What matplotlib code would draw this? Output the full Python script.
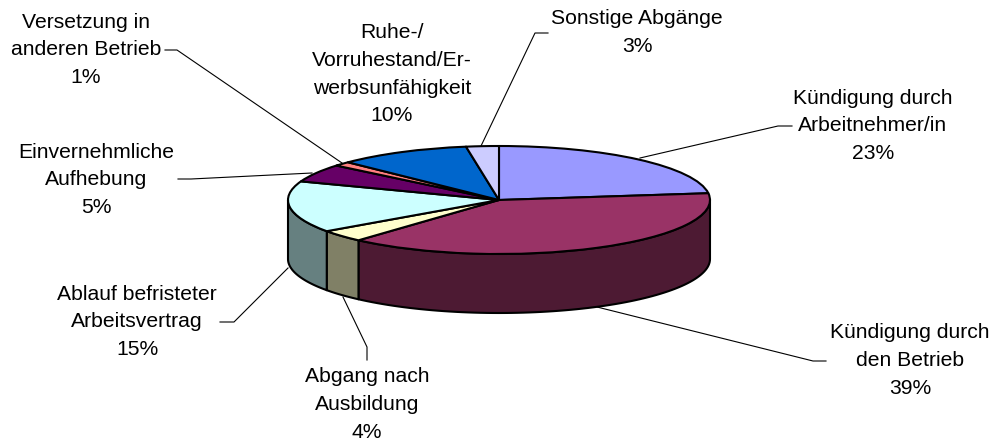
#!/usr/bin/env python3

import numpy as np
import matplotlib
matplotlib.use('Agg')
import matplotlib.pyplot as plt
from matplotlib.patches import Wedge, Polygon
from matplotlib.transforms import Affine2D

# data, clockwise from 12 o'clock
labels = ['Kündigung durch\nArbeitnehmer/in', 'Kündigung durch\nden Betrieb',
          'Abgang nach\nAusbildung', 'Ablauf befristeter\nArbeitsvertrag',
          'Einvernehmliche\nAufhebung', 'Versetzung in\nanderen Betrieb',
          'Ruhe-/\nVorruhestand/Er-\nwerbsunfähigkeit', 'Sonstige Abgänge']
percents = [23, 39, 4, 15, 5, 1, 10, 3]
# slice sizes, the labels only show them rounded
shares = [23, 38.6, 3.6, 15.4, 5.4, 1.3, 10.2, 2.5]
colors = ['#9999FF', '#993366', '#FFFFCC', '#CCFFFF', '#660066', '#FF8080', '#0066CC', '#CCCCFF']
side_colors = ['#4D4D80', '#4D1A33', '#808066', '#668080', '#330033', '#804040', '#003366', '#666680']

# layout in pixels
cx, cy, rx, ry, depth = 499, 200, 211, 54, 59
label_pos = [(873, 98), (910, 333), (367, 377), (137, 294), (96, 152), (86, 22), (392, 33), (637, 19)]
leaders = [
    [(792, 126), (778, 126), (640, 158)],
    [(826, 361), (813, 361), (597, 307)],
    [(367, 360), (367, 347), (343, 297)],
    [(220, 322), (234, 322), (288, 268)],
    [(178, 179), (191, 179), (312, 173)],
    [(165, 50), (177, 50), (342, 163)],
    [],
    [(548, 33), (535, 33), (481, 146)],
]
line_gap = 27.6

fig = plt.figure(figsize=(9.92, 4.41), dpi=100)
ax = fig.add_axes([0, 0, 1, 1])
ax.set_xlim(0, 992)
ax.set_ylim(441, 0)
ax.axis('off')

plt.rcParams['font.family'] = ['Liberation Sans']

# slice angles, measured clockwise from the top
edges = np.cumsum([0] + shares) / sum(shares) * 360

# side wall: only the front half of the ellipse (90..270 clockwise from top)
for i in range(len(shares)):
    a0 = max(edges[i], 90)
    a1 = min(edges[i + 1], 270)
    if a1 <= a0:
        continue
    t = np.radians(np.linspace(a0, a1, 80))
    x = cx + rx * np.sin(t)
    y = cy - ry * np.cos(t)
    pts = np.column_stack([np.r_[x, x[::-1]], np.r_[y, y[::-1] + depth]])
    ax.add_patch(Polygon(pts, closed=True, facecolor=side_colors[i], edgecolor='black',
                         linewidth=1.5, joinstyle='round', zorder=2))

# top face, wedge on a unit circle squashed to the ellipse
squash = Affine2D().scale(rx, -ry).translate(cx, cy) + ax.transData
for i in range(len(shares)):
    w = Wedge((0, 0), 1, 90 - edges[i + 1], 90 - edges[i], facecolor=colors[i],
              edgecolor='black', linewidth=1.5, joinstyle='round', zorder=3)
    w.set_transform(squash)
    ax.add_patch(w)

# leader lines
for pts in leaders:
    if pts:
        ax.plot([p[0] for p in pts], [p[1] for p in pts], color='black', lw=0.8, zorder=1)

# labels, one text per line so the spacing can follow the original
for i in range(len(shares)):
    lines = labels[i].split('\n') + [f'{percents[i]}%']
    x, y = label_pos[i]
    for j, line in enumerate(lines):
        ax.text(x, y + j * line_gap, line, ha='center', va='center', fontsize=15.2,
                color='black', zorder=4)

plt.savefig('out.png', dpi=100)
plt.close()
